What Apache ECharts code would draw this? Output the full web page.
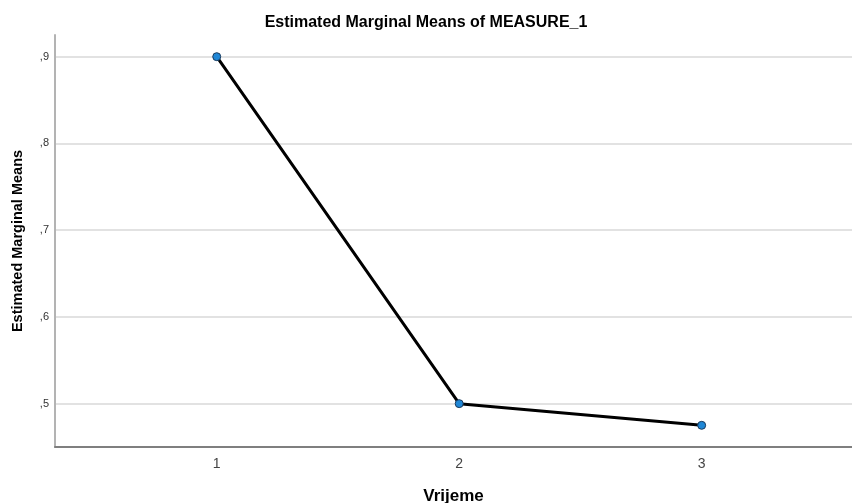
<!DOCTYPE html>
<html>
<head>
<meta charset="utf-8">
<script src="https://cdn.jsdelivr.net/npm/echarts@6/dist/echarts.min.js"></script>
<style>
  html, body { margin: 0; padding: 0; background: #fff; }
  #chart { width: 852px; height: 503px; }
</style>
</head>
<body>
<div id="chart"></div>
<script>
// levels of the factor "Vrijeme" and their estimated marginal means
const vrijeme = [1, 2, 3];
const means = [0.9, 0.5, 0.475];
// tick values on the axes
const xTicks = [1, 2, 3];
const yTicks = [0.5, 0.6, 0.7, 0.8, 0.9];

const chart = echarts.init(document.getElementById("chart"));

// SPSS style: comma decimal, no leading zero
const fmtY = (v) => "," + Math.round(v * 10);

chart.setOption({
  animation: false,
  title: {
    text: "Estimated Marginal Means of MEASURE_1",
    left: "center",
    top: 10,
    textStyle: {
      fontFamily: "Liberation Sans",
      fontSize: 16,
      fontWeight: "bold",
      color: "#000",
    },
  },
  grid: {
    left: 55,
    right: 0,
    top: 35,
    bottom: 56,
    containLabel: false,
    outerBoundsMode: "none",
  },
  xAxis: {
    type: "value",
    min: 0.333,
    max: 3.62,
    name: "Vrijeme",
    nameLocation: "middle",
    nameGap: 41,
    nameTextStyle: {
      fontFamily: "Liberation Sans",
      fontSize: 17,
      fontWeight: "bold",
      color: "#000",
    },
    axisLine: { lineStyle: { color: "#7f7f7f", width: 2 } },
    axisTick: { show: false, customValues: xTicks },
    splitLine: { show: false },
    axisLabel: {
      customValues: xTicks,
      margin: 10,
      fontFamily: "Liberation Sans",
      fontSize: 14,
      color: "#444",
    },
  },
  yAxis: {
    type: "value",
    min: 0.45,
    max: 0.925,
    name: "Estimated Marginal Means",
    nameLocation: "middle",
    nameGap: 30,
    nameTextStyle: {
      fontFamily: "Liberation Sans",
      fontSize: 14.5,
      fontWeight: "bold",
      color: "#000",
    },
    axisLine: { show: true, lineStyle: { color: "#b3b3b3", width: 2 } },
    axisTick: { show: false, customValues: yTicks },
    splitLine: {
      show: true,
      lineStyle: { color: "#d9d9d9", width: 1.5 },
    },
    axisLabel: {
      customValues: yTicks,
      margin: 6,
      fontFamily: "Liberation Sans",
      fontSize: 11,
      color: "#333",
      formatter: fmtY,
    },
  },
  series: [
    {
      type: "line",
      data: vrijeme.map((v, i) => [v, means[i]]),
      lineStyle: { color: "#000", width: 3 },
      symbol: "circle",
      symbolSize: 8,
      itemStyle: { color: "#1f87d6", borderColor: "#1a3a5c", borderWidth: 1 },
    },
  ],
});
</script>
</body>
</html>
